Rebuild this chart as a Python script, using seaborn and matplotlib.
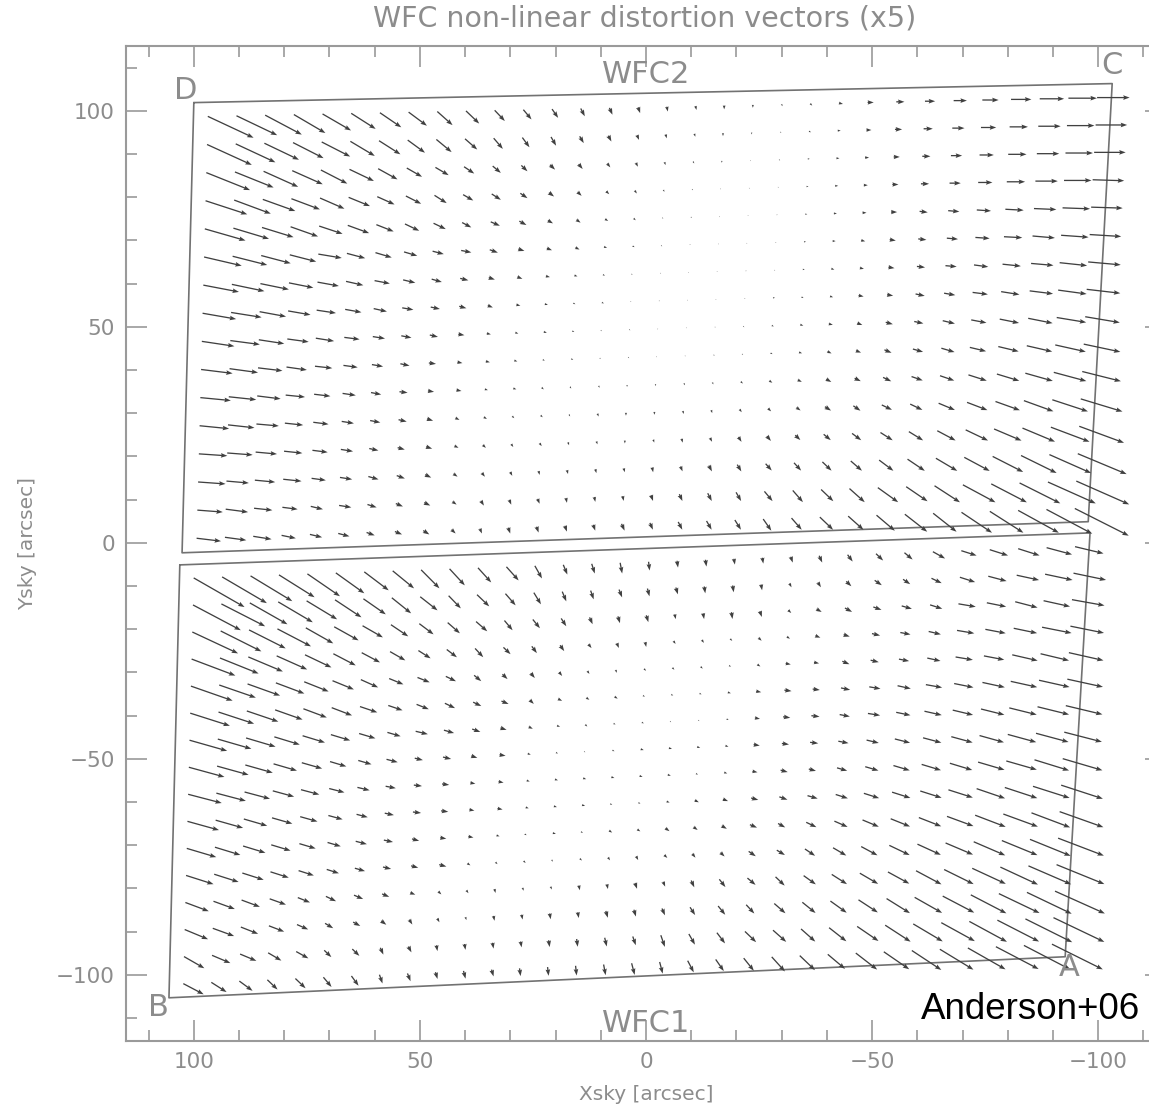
import numpy as np
import matplotlib
matplotlib.use("Agg")
import matplotlib.pyplot as plt
import seaborn as sns
from matplotlib.ticker import MultipleLocator

# ---------------- data ----------------
# detector grid (chip pixel centres, 4096 x 2048 chips)
col_pix = [64, 192, 320, 448, 576, 704, 832, 960, 1088, 1216, 1344, 1472, 1600, 1728, 1856, 1984,
           2112, 2240, 2368, 2496, 2624, 2752, 2880, 3008, 3136, 3264, 3392, 3520, 3648, 3776, 3904, 4032]
row_pix = [64, 192, 320, 448, 576, 704, 832, 960, 1088, 1216, 1344, 1472, 1600, 1728, 1856, 1984]
chip_nx = 4096
chip_ny = 2048

# chip corners on the sky [arcsec]: top-left, top-right, bottom-right, bottom-left
wfc2_corner_x = [100.0, -103.1, -97.8, 102.6]
wfc2_corner_y = [101.9, 106.3, 4.9, -2.3]
wfc1_corner_x = [103.1, -98.2, -92.7, 105.5]
wfc1_corner_y = [-5.1, 2.3, -95.8, -105.3]

# non-linear distortion, components along -Xsky and -Ysky (units of 0.045 arcsec)
wfc2_dx = [
    [45,40,36,31,28,24,21,18,15,13,10, 8,6,4,3,2,1,1,0,0, 1,2,4,6,8,10,13,16,20,24,28,32],
    [44,39,34,30,28,24,21,17,15,12,9, 7,5,4,3,2,1,1,0,0, 1,2,3,5,7,9,12,15,18,22,27,31],
    [43,38,34,30,26,24,19,15,13,10,8, 6,5,4,3,2,1,1,0,0, 1,2,3,4,6,8,11,14,18,22,27,31],
    [41,36,32,28,24,21,17,15,12,10,9, 7,5,4,3,2,1,1,0,0, 1,2,3,4,6,8,11,14,18,22,27,31],
    [40,35,31,27,23,21,17,14,12,9,9, 7,5,4,3,2,1,1,0,0, 1,2,3,4,6,8,11,14,18,22,27,31],
    [37,34,29,26,23,18,16,13,11,10,8, 6,5,4,3,2,1,1,0,0, 1,2,3,4,6,8,11,14,18,22,27,31],
    [35,32,28,24,21,17,15,12,10,8,6, 5,4,3,2,1,1,0,0,1, 1,2,3,4,6,8,11,14,18,22,27,32],
    [33,30,26,22,19,16,13,11,9,7,5, 4,3,2,2,1,1,0,0,1, 2,2,3,5,6,9,11,15,18,23,28,33],
    [32,29,25,21,18,15,12,10,8,6,4, 3,3,2,1,1,0,0,1,1, 2,3,4,5,7,9,12,15,19,24,29,34],
    [31,28,24,20,17,14,11,9,7,5,4, 3,2,2,1,1,0,0,1,1, 2,3,4,5,7,10,13,16,20,25,30,36],
    [30,27,23,19,16,13,10,8,6,5,3, 3,2,1,1,0,0,1,1,2, 3,4,5,6,8,11,14,18,22,27,32,38],
    [29,26,22,18,15,12,10,8,6,4,3, 2,2,1,1,0,0,1,1,2, 3,4,6,7,10,12,16,20,24,29,35,41],
    [28,25,21,18,15,12,9,7,6,4,3, 2,2,1,1,0,1,1,2,3, 4,5,7,9,12,14,18,22,27,32,38,44],
    [27,22,20,18,14,12,10,8,6,4,3, 2,1,1,1,1,1,2,3,4, 6,7,9,11,14,17,21,25,30,35,41,48],
    [25,22,18,15,12,12,9,7,6,4,3, 2,2,1,1,1,2,3,4,5, 8,10,12,15,20,21,25,32,35,40,47,52],
    [24,21,18,14,12,11,8,7,6,4,2, 2,2,2,2,3,3,4,5,6, 8,10,13,15,18,22,23,30,33,40,45,53],
]
wfc2_dy = [
    [22,20,20,19,17,16,15,14,14,13,11, 10,9,8,7,6,5,4,4,3, 2,2,1,0,0,0,0,0,0,0,0,0],
    [21,19,17,16,15,15,14,13,13,11,11, 10,9,7,6,5,4,3,3,2, 1,1,0,0,0,0,0,0,0,0,0,0],
    [18,16,16,14,14,12,11,9,8,7,7, 6,5,5,4,4,3,2,2,1, 1,0,0,0,0,0,0,0,0,0,0,0],
    [14,14,12,11,11,9,8,8,8,6,6, 5,4,4,3,3,2,1,1,1, 0,0,0,0,0,0,0,0,0,0,0,1],
    [12,11,10,10,8,8,7,7,6,5,4, 4,3,3,2,2,1,1,1,0, 0,0,0,0,0,1,1,1,1,1,1,1],
    [9,9,8,7,4,5,5,4,3,2,3, 2,2,2,1,1,1,0,0,0, 0,0,0,1,1,1,1,1,1,2,2,2],
    [7,7,6,5,4,4,3,3,3,2,2, 2,1,1,1,1,0,0,0,0, 0,0,1,1,1,1,1,2,2,2,3,3],
    [6,5,5,4,3,3,3,2,2,2,2, 1,1,1,1,0,0,0,0,0, 0,1,1,1,1,2,2,2,3,3,4,4],
    [5,4,4,3,3,2,2,2,2,1,1, 1,1,1,1,1,1,0,0,1, 1,1,1,2,2,2,3,3,4,5,5,6],
    [4,4,3,3,2,2,2,2,1,1,1, 1,1,1,1,1,1,1,1,1, 1,1,2,2,3,3,4,4,5,6,7,8],
    [3,3,3,2,2,2,2,1,1,1,1, 1,2,2,2,2,2,2,2,2, 2,2,3,3,4,4,5,6,7,8,9,10],
    [3,3,2,2,2,2,2,2,2,2,2, 2,2,2,3,3,3,3,3,3, 3,3,4,5,5,6,7,8,9,11,12,13],
    [2,2,2,2,2,2,2,2,2,2,3, 3,3,3,3,3,3,4,4,5, 5,5,6,7,8,9,10,11,12,14,15,17],
    [2,2,2,2,2,2,3,3,3,3,4, 4,4,4,4,4,5,5,6,7, 7,8,9,10,11,12,13,14,16,18,19,21],
    [2,3,2,2,3,2,3,3,3,3,5, 5,5,5,5,5,6,7,8,9, 10,12,12,14,15,15,17,18,19,21,22,24],
    [3,3,3,3,3,3,3,3,4,4,5, 6,6,6,6,7,7,8,9,10, 12,12,13,14,16,18,19,21,22,23,25,28],
]
wfc1_dx = [
    [50,44,41,35,32,28,24,21,18,15,13, 12,7,4,3,2,1,1,1,1, 1,2,3,5,7,8,12,15,18,21,25,28],
    [47,43,37,34,30,26,22,19,17,12,12, 10,7,4,3,3,2,2,1,1, 1,2,3,5,7,7,10,15,18,22,27,32],
    [45,40,36,33,27,24,20,17,14,12,11, 8,7,5,3,2,2,1,1,1, 2,3,5,7,8,10,12,17,19,22,26,32],
    [43,38,34,30,26,22,18,15,12,10,8, 7,5,4,3,2,1,2,2,2, 3,3,5,6,8,10,12,17,20,23,29,33],
    [41,36,32,28,24,21,17,14,12,10,7, 5,4,3,2,1,2,2,2,2, 3,5,5,7,8,10,13,17,20,25,28,34],
    [39,35,31,27,23,20,17,14,12,10,8, 7,4,4,3,3,2,2,2,3, 5,7,7,9,11,13,16,19,22,26,30,35],
    [37,33,29,25,22,19,16,13,12,10,8, 6,4,3,2,2,2,1,1,2, 5,7,8,10,12,14,17,20,23,27,31,36],
    [35,31,27,23,20,16,13,11,8,8,6, 6,3,2,1,2,3,3,3,3, 6,7,8,10,12,15,18,21,24,28,32,37],
    [33,29,25,21,18,15,12,10,8,7,5, 5,3,3,3,3,3,3,2,3, 5,7,7,10,13,16,19,22,26,30,34,39],
    [31,27,23,20,17,14,11,9,8,7,5, 5,3,3,3,2,2,3,4,5, 7,8,10,12,15,18,21,24,28,32,36,41],
    [29,25,22,19,16,13,11,9,7,6,5, 3,2,3,2,3,3,4,4,5, 7,7,10,13,16,19,22,26,30,34,38,43],
    [27,24,21,18,15,12,10,8,7,7,3, 2,2,1,2,2,2,3,3,4, 7,8,10,13,16,20,23,27,31,35,40,45],
    [23,21,18,16,12,10,9,7,5,3,2, 1,1,1,1,1,2,2,3,6, 8,9,12,15,18,21,25,29,33,37,42,47],
    [23,21,17,15,11,8,7,5,3,2,1, 1,1,1,1,2,2,3,5,7, 8,11,13,16,19,23,27,31,35,40,44,49],
    [20,18,16,13,12,7,7,3,3,1,1, 1,1,1,1,2,3,4,6,8, 11,13,14,17,21,25,29,33,37,41,46,50],
    [20,15,13,10,10,8,7,3,3,2,2, 2,1,1,1,2,3,3,6,8, 10,13,15,17,21,25,29,33,37,42,46,50],
]
wfc1_dy = [
    [30,27,26,23,23,21,19,18,19,17,15, 14,13,10,10,11,9,7,7,6, 6,6,7,7,7,7,7,5,6,7,7,7],
    [26,23,22,21,19,18,16,16,14,13,12, 12,12,10,9,8,8,7,7,7, 6,4,5,5,5,5,5,5,5,5,6,7],
    [22,21,19,18,16,14,12,12,11,11,10, 10,9,8,7,7,7,5,6,7, 6,3,3,4,3,3,4,3,4,6,6,6],
    [17,16,15,14,13,12,10,9,8,8,9, 7,7,6,4,5,5,3,3,2, 3,2,2,2,2,2,3,3,4,5,6,7],
    [15,13,12,11,10,9,8,6,5,5,6, 5,5,4,3,3,2,2,2,1, 2,1,1,3,2,2,3,3,4,6,7,8],
    [13,12,11,10,9,8,6,5,5,5,4, 3,4,2,2,2,1,1,1,1, 1,1,1,2,2,3,3,4,5,6,7,8],
    [11,10,9,8,7,6,5,4,3,3,3, 2,2,1,2,1,1,1,1,1, 1,1,1,2,2,3,4,5,6,7,8,9],
    [10,9,8,7,6,5,4,3,2,2,2, 1,1,1,1,1,1,1,1,1, 1,1,1,2,3,4,5,6,7,8,9,10],
    [9,8,7,6,5,4,3,2,1,1,1, 1,1,1,1,1,1,1,1,1, 1,2,2,3,4,5,6,7,8,9,11,12],
    [9,8,7,6,5,4,3,2,1,1,1, 1,1,1,1,1,1,1,2,2, 2,3,3,4,5,6,7,8,10,11,12,14],
    [9,8,7,6,5,4,3,2,2,1,1, 1,1,1,1,2,2,3,3,3, 3,4,5,6,7,8,9,10,12,13,15,16],
    [9,8,7,6,5,4,3,2,2,2,2, 2,2,2,2,3,4,3,4,4, 5,5,7,8,9,10,11,12,14,15,17,18],
    [9,8,7,6,5,5,4,3,2,3,3, 4,3,3,5,5,6,5,7,8, 7,9,9,10,11,12,14,15,16,18,19,20],
    [10,8,7,6,5,5,4,4,5,4,3, 5,5,6,6,7,7,7,8,9, 9,10,11,12,13,15,16,17,19,20,22,23],
    [12,8,7,8,7,7,7,7,6,6,6, 6,6,7,8,9,9,12,11,11, 11,12,13,14,15,17,18,19,21,22,24,25],
    [11,10,10,10,10,10,10,9,8,7,8, 7,8,9,10,11,12,12,12,12, 13,15,15,15,17,18,20,21,22,23,25,26],
]

corner_labels = ["D", "C", "B", "A"]
corner_label_x = [101.8, -103.1, 107.9, -93.6]
corner_label_y = [104.6, 110.6, -107.6, -98.4]
chip_names = ["WFC2", "WFC1"]
chip_name_x = [0.0, 0.0]
chip_name_y = [108.3, -111.3]

x_ticks = [100, 50, 0, -50, -100]
y_ticks = [-100, -50, 0, 50, 100]

UNIT = 0.045      # arcsec per distortion unit
MAG = 5           # vectors magnified x5

# ---------------- style ----------------
sns.set_theme(style="ticks")
plt.rcParams["font.family"] = ["DejaVu Sans"]
GRAY = "#8c8c8c"
AXC = "#9a9a9a"
ARROW = "#404040"
EDGE = "#727272"

fig = plt.figure(figsize=(11.49, 11.10), dpi=100)
ax = fig.add_axes([126 / 1149, 1 - 1041 / 1110, (1166 - 126) / 1149, (1041 - 46) / 1110])
ax.set_xlim(115, -115)
ax.set_ylim(-115.3, 115)


def chip_grid(cx, cy):
    s = np.array(col_pix) / chip_nx
    t = np.array(row_pix) / chip_ny
    S, T = np.meshgrid(s, t)
    cx = np.array(cx)
    cy = np.array(cy)
    X = (1 - S) * (1 - T) * cx[0] + S * (1 - T) * cx[1] + S * T * cx[2] + (1 - S) * T * cx[3]
    Y = (1 - S) * (1 - T) * cy[0] + S * (1 - T) * cy[1] + S * T * cy[2] + (1 - S) * T * cy[3]
    return X, Y


for cx, cy, dx, dy in [(wfc2_corner_x, wfc2_corner_y, wfc2_dx, wfc2_dy),
                       (wfc1_corner_x, wfc1_corner_y, wfc1_dx, wfc1_dy)]:
    X, Y = chip_grid(cx, cy)
    U = -np.array(dx, dtype=float) * UNIT * MAG
    V = -np.array(dy, dtype=float) * UNIT * MAG
    ax.quiver(X, Y, U, V, angles="xy", scale_units="xy", scale=1,
              units="dots", width=1.3, headwidth=3.6, headlength=5.0,
              headaxislength=4.4, minshaft=1, minlength=0.5,
              color=ARROW, zorder=3)
    # chip outline
    sns.lineplot(x=list(cx) + [cx[0]], y=list(cy) + [cy[0]], sort=False,
                 estimator=None, color=EDGE, lw=1.2, ax=ax, zorder=2)

for lab, lx, ly in zip(corner_labels, corner_label_x, corner_label_y):
    ax.text(lx, ly, lab, ha="center", va="center", fontsize=22, color=GRAY, zorder=4)
for lab, lx, ly in zip(chip_names, chip_name_x, chip_name_y):
    ax.text(lx, ly, lab, ha="center", va="center", fontsize=22, color=GRAY, zorder=4)

ax.set_xticks(x_ticks)
ax.set_yticks(y_ticks)
ax.xaxis.set_minor_locator(MultipleLocator(10))
ax.yaxis.set_minor_locator(MultipleLocator(10))
ax.tick_params(which="both", direction="in", top=True, right=True, color=AXC,
               labelcolor=GRAY, labelsize=15.5, width=1.2)
ax.tick_params(which="major", length=15, pad=8)
ax.tick_params(which="minor", length=8)
for sp in ax.spines.values():
    sp.set_color(AXC)
    sp.set_linewidth(1.5)

ax.set_xlabel("Xsky [arcsec]", fontsize=14.5, color=GRAY, labelpad=9)
ax.set_ylabel("Ysky [arcsec]", fontsize=14.5, color=GRAY, labelpad=14)
fig.text(645 / 1149, 1 - 19 / 1110, "WFC non-linear distortion vectors (x5)",
         ha="center", va="center", fontsize=20.5, color=GRAY)
fig.text(1140 / 1149, 1 - 1019 / 1110, "Anderson+06", ha="right", va="baseline",
         fontsize=26.5, color="black", family=["Liberation Sans", "DejaVu Sans"])

fig.savefig("out.png", dpi=100)
